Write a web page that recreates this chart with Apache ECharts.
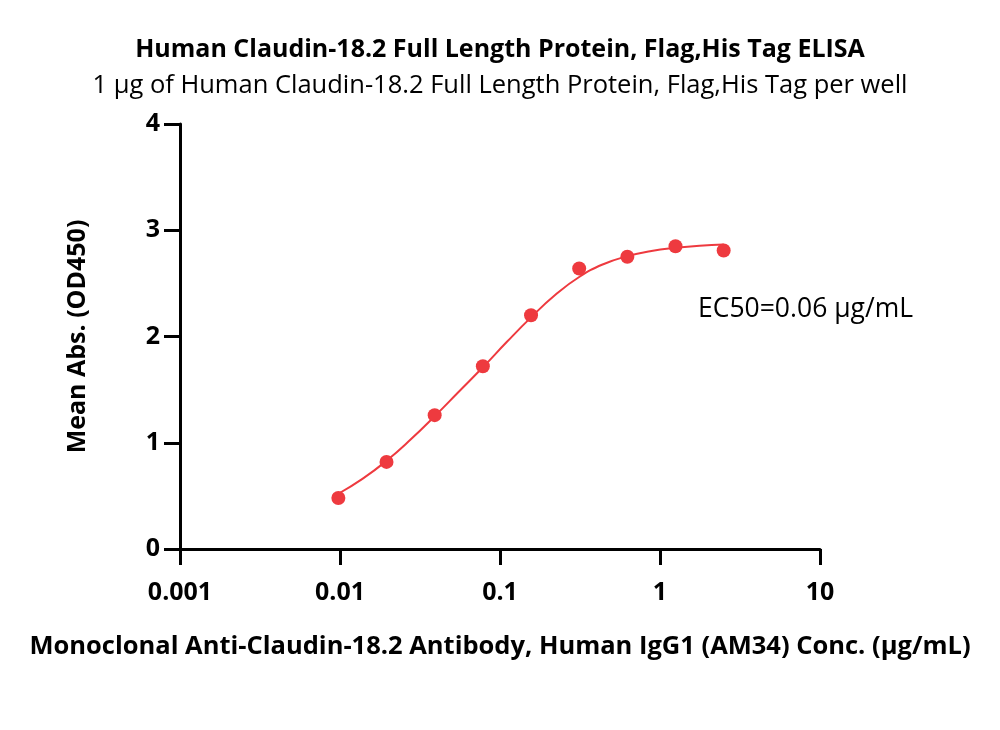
<!DOCTYPE html>
<html>
<head>
<meta charset="UTF-8"/>
<title>Claudin-18.2 ELISA</title>
<style>
  html, body { margin: 0; padding: 0; background: #fff; }
  #chart { width: 1000px; height: 730px; }
</style>
</head>
<body>
<div id="chart"></div>
<script type="text/javascript" src="https://cdn.jsdelivr.net/npm/echarts@6/dist/echarts.min.js"></script>
<script type="text/javascript">
    // measured points (antibody conc. in ug/mL, mean OD450)
    var concList = [0.009766, 0.01953, 0.03906, 0.07813, 0.1563, 0.3125, 0.625, 1.25, 2.5];
    var odList = [0.48, 0.82, 1.26, 1.72, 2.20, 2.64, 2.75, 2.85, 2.81];

    // fitted curve
    var fitConc = [0.009766, 0.01381, 0.01953, 0.02762, 0.03906, 0.05524, 0.07813, 0.1105, 0.1563,
                   0.2210, 0.3125, 0.4419, 0.625, 0.8839, 1.25, 1.768, 2.5];
    var fitOd = [0.52, 0.66, 0.83, 1.03, 1.25, 1.48, 1.71, 1.95, 2.18,
                 2.39, 2.56, 2.68, 2.755, 2.805, 2.835, 2.855, 2.865];

    var xTickLabels = ['0.001', '0.01', '0.1', '1', '10'];
    var yTickLabels = ['0', '1', '2', '3', '4'];

    var red = '#ee3a3f';
    var font = 'Open Sans';

    var pairs = function(xs, ys) {
        var out = [];
        for (var i = 0; i < xs.length; i++) {
            out.push([xs[i], ys[i]]);
        }
        return out;
    };

    var chart = echarts.init(document.getElementById('chart'));
    chart.setOption({
        animation: false,
        title: [
            {
                text: 'Human Claudin-18.2 Full Length Protein, Flag,His Tag ELISA',
                left: 'center', top: 32,
                textStyle: { fontFamily: font, fontSize: 25, fontWeight: 'bold', color: '#000' }
            },
            {
                text: '1 µg of Human Claudin-18.2 Full Length Protein, Flag,His Tag per well',
                left: 'center', top: 68,
                textStyle: { fontFamily: font, fontSize: 25.5, fontWeight: 'normal', color: '#000' }
            }
        ],
        graphic: [
            {
                type: 'text', left: 698, top: 296,
                style: { text: 'EC50=0.06 µg/mL', fontFamily: font, fontSize: 26.5, fill: '#000' }
            }
        ],
        grid: { left: 180, right: 180, top: 124, bottom: 181 },
        xAxis: {
            type: 'log', logBase: 10, min: 0.001, max: 10,
            name: 'Monoclonal Anti-Claudin-18.2 Antibody, Human IgG1 (AM34) Conc. (µg/mL)',
            nameLocation: 'middle', nameGap: 85,
            nameTextStyle: { fontFamily: font, fontSize: 25.5, fontWeight: 'bold', color: '#000' },
            axisLine: { lineStyle: { color: '#000', width: 3 } },
            axisTick: { length: 16, lineStyle: { color: '#000', width: 3 } },
            minorTick: { show: false },
            splitLine: { show: false },
            axisLabel: {
                margin: 31, fontFamily: font, fontSize: 25, fontWeight: 'bold', color: '#000',
                formatter: function(v) {
                    var k = Math.round(Math.log10(v)) + 3;
                    return xTickLabels[k] || '';
                }
            }
        },
        yAxis: {
            type: 'value', min: 0, max: 4, interval: 1,
            name: 'Mean Abs. (OD450)',
            nameLocation: 'middle', nameGap: 90,
            nameTextStyle: { fontFamily: font, fontSize: 25, fontWeight: 'bold', color: '#000' },
            axisLine: { show: true, lineStyle: { color: '#000', width: 3 } },
            axisTick: { show: true, length: 16, lineStyle: { color: '#000', width: 3 } },
            splitLine: { show: false },
            axisLabel: {
                margin: 20, fontFamily: font, fontSize: 25, fontWeight: 'bold', color: '#000',
                formatter: function(v) { return yTickLabels[Math.round(v)]; }
            }
        },
        series: [
            {
                name: 'fit', type: 'line', smooth: true, showSymbol: false,
                data: pairs(fitConc, fitOd),
                lineStyle: { color: red, width: 2 },
                z: 2
            },
            {
                name: 'data', type: 'scatter', symbolSize: 14,
                data: pairs(concList, odList),
                itemStyle: { color: red, opacity: 1 },
                z: 3
            }
        ]
    });
</script>
</body>
</html>
